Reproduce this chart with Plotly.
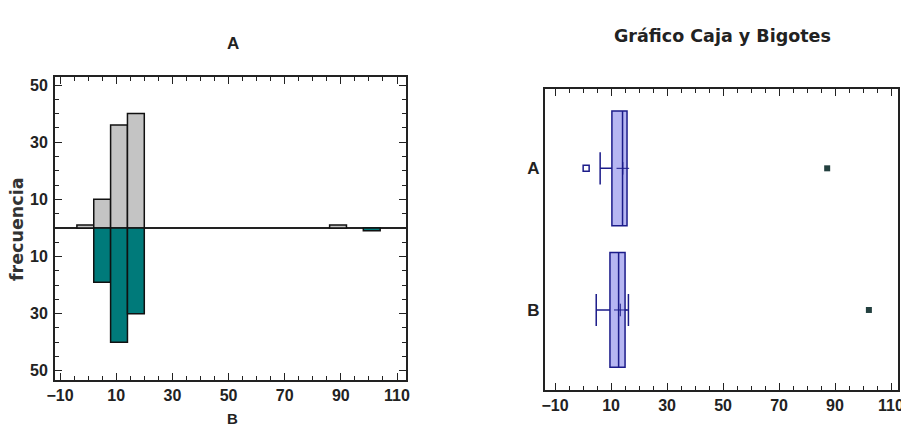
import plotly.graph_objects as go

# histograma: clases de ancho 6 empezando en -4
bin_start = -4
bin_width = 6
bins_a = [0, 1, 2, 3, 15]          # indices de clase con datos (A)
freq_a = [1, 10, 36, 40, 1]
bins_b = [1, 2, 3, 17]             # indices de clase con datos (B)
freq_b = [19, 40, 30, 1]

# caja y bigotes
grupos = ["A", "B"]
q1 = [10.3, 9.6]
mediana = [14.1, 12.7]
q3 = [15.7, 15.0]
bigote_inf = [6.1, 4.7]
bigote_sup = [15.7, 16.2]
media = [14.2, 13.3]
atipicos_x = [1.1]
atipicos_g = ["A"]
lejanos_x = [87.2, 102.1]
lejanos_g = ["A", "B"]

x_ticks = [-10, 10, 30, 50, 70, 90, 110]
y_ticks = [-50, -30, -10, 10, 30, 50]
y_text = ["50", "30", "10", "10", "30", "50"]

ARIAL = "Liberation Sans, Arial, sans-serif"
DEJAVU = "DejaVu Sans, Verdana, sans-serif"
NAVY = "#1c1c8a"
OFF = 8  # margen del <body> de la pagina
W, H = 909, 426
ML, MR, MT, MB = 30, 10, 10, 20
PW, PH = W - ML - MR, H - MT - MB


# posiciones en pixeles de la ventana -> fracciones del area de trazado
def fx(a):
    return (a - OFF - ML) / PW


def fy(b):
    return (H - MB - (b - OFF)) / PH


def centro(i):
    return bin_start + bin_width * i + bin_width / 2


fig = go.Figure()

fig.add_trace(go.Bar(
    x=[centro(i) for i in bins_a], y=freq_a, width=bin_width,
    marker=dict(color="#c4c4c4", line=dict(color="#111", width=1.5)),
    xaxis="x", yaxis="y", showlegend=False))
fig.add_trace(go.Bar(
    x=[centro(i) for i in bins_b], y=[-f for f in freq_b], width=bin_width,
    marker=dict(color="#007a7a", line=dict(color="#111", width=1.5)),
    xaxis="x", yaxis="y", showlegend=False))

for i, g in enumerate(grupos):
    fig.add_trace(go.Box(
        y=[g], q1=[q1[i]], median=[mediana[i]], q3=[q3[i]],
        lowerfence=[bigote_inf[i]], upperfence=[bigote_sup[i]],
        orientation="h", fillcolor="#b6b6f2",
        line=dict(color=NAVY, width=1.5), width=0.81, whiskerwidth=0.28,
        xaxis="x2", yaxis="y2", showlegend=False, hoverinfo="skip"))

fig.add_trace(go.Scatter(
    x=media, y=grupos, mode="markers",
    marker=dict(symbol="cross-thin", size=9, line=dict(color=NAVY, width=1)),
    xaxis="x2", yaxis="y2", showlegend=False))
fig.add_trace(go.Scatter(
    x=atipicos_x, y=atipicos_g, mode="markers",
    marker=dict(symbol="square-open", size=6, color=NAVY, line=dict(width=1.5)),
    xaxis="x2", yaxis="y2", showlegend=False))
fig.add_trace(go.Scatter(
    x=lejanos_x, y=lejanos_g, mode="markers",
    marker=dict(symbol="square", size=6, color="#23403f"),
    xaxis="x2", yaxis="y2", showlegend=False))

menor = dict(dtick=5, tick0=0, ticks="inside", ticklen=4, tickcolor="#222")
eje = dict(showline=True, linecolor="#222", linewidth=2, mirror="allticks",
           ticks="inside", ticklen=7, tickcolor="#222", showgrid=False,
           automargin=False,
           tickfont=dict(family=ARIAL, size=16, color="#222", weight="bold"))

fig.update_layout(
    width=W, height=H,
    margin=dict(l=ML, r=MR, t=MT, b=MB),
    paper_bgcolor="white", plot_bgcolor="white",
    barmode="overlay", showlegend=False,
    xaxis=dict(eje, domain=[fx(55), fx(406)], range=[-11.8, 113.2],
               tickvals=x_ticks, anchor="y", minor=menor),
    yaxis=dict(eje, domain=[fy(380), fy(77)], range=[-53.2, 52.8],
               tickvals=y_ticks, ticktext=y_text, anchor="x",
               ticklabelstandoff=2,
               zeroline=True, zerolinecolor="#222", zerolinewidth=1.5,
               minor=menor),
    xaxis2=dict(eje, domain=[fx(545), fx(898)], range=[-13.6, 112.5],
                tickvals=x_ticks, anchor="y2", mirror="ticks", minor=menor),
    yaxis2=dict(eje, domain=[fy(390), fy(89)], range=[1.565, -0.56],
                anchor="x2", ticks="", mirror=True, type="category",
                tickfont=dict(family=ARIAL, size=17, color="#222", weight="bold")),
    annotations=[
        dict(text="A", x=fx(233), y=fy(43), xref="paper", yref="paper",
             xanchor="center", yanchor="middle", showarrow=False,
             font=dict(family=ARIAL, size=17, color="#222", weight="bold")),
        dict(text="Gráfico Caja y Bigotes", x=fx(722), y=fy(36),
             xref="paper", yref="paper", xanchor="center", yanchor="middle",
             showarrow=False,
             font=dict(family=DEJAVU, size=17.5, color="#222", weight="bold")),
        dict(text="B", x=fx(232), y=fy(418), xref="paper", yref="paper",
             xanchor="center", yanchor="middle", showarrow=False,
             font=dict(family=ARIAL, size=15, color="#222", weight="bold")),
        dict(text="frecuencia", x=fx(17), y=fy(230), xref="paper", yref="paper",
             xanchor="center", yanchor="middle", showarrow=False, textangle=-90,
             font=dict(family=DEJAVU, size=17.5, color="#333", weight="bold")),
    ],
)

fig.write_html("out.html")
